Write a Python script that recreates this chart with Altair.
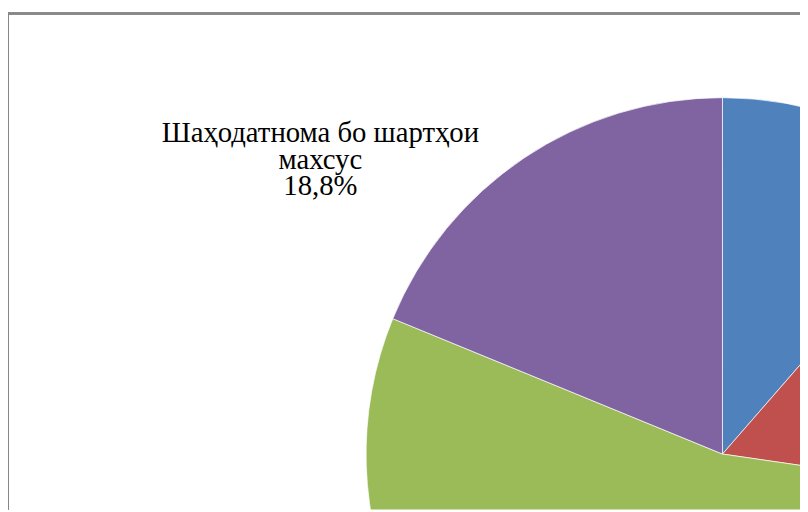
import altair as alt
import pandas as pd

categories = ["Категория 1", "Категория 2", "Категория 3", "Шаҳодатнома бо шартҳои махсус"]
values = [11.4, 15.9, 53.9, 18.8]
colors = ["#4F81BD", "#C0504D", "#9BBB59", "#8064A2"]
order = [1, 2, 3, 4]

df = pd.DataFrame({"category": categories, "value": values, "order": order})

W, H = 800, 501

pie = alt.Chart(df).mark_arc(radius=360, stroke="white", strokeWidth=0.7, clip=True).encode(
    theta=alt.Theta("value:Q", stack=True),
    order=alt.Order("order:Q"),
    color=alt.Color("category:N", scale=alt.Scale(domain=categories, range=colors), legend=None),
    x=alt.value(721.7),
    y=alt.value(445),
)

label_df = pd.DataFrame({"lines": [["Шаҳодатнома бо шартҳои", "махсус", "18,8%"]]})
label = alt.Chart(label_df).mark_text(
    font="Liberation Serif", fontSize=29, lineHeight=27, align="center", baseline="alphabetic", color="black"
).encode(text="lines", x=alt.value(315.5), y=alt.value(129.7))

left = alt.Chart(df).mark_rule(color="#868686", strokeWidth=2).encode(
    x=alt.value(0), y=alt.value(-1), y2=alt.value(H)
)
top = alt.Chart(df).mark_rule(color="#868686", strokeWidth=2).encode(
    x=alt.value(-1), x2=alt.value(W), y=alt.value(0)
)

chart = alt.layer(pie, label, left, top).properties(
    width=W, height=H,
    autosize=alt.AutoSizeParams(type="none"),
    padding={"left": 0, "top": 3, "right": 0, "bottom": 0},
).configure_view(stroke=None)

chart.save("out.html", embed_options={"renderer": "svg", "actions": False})
